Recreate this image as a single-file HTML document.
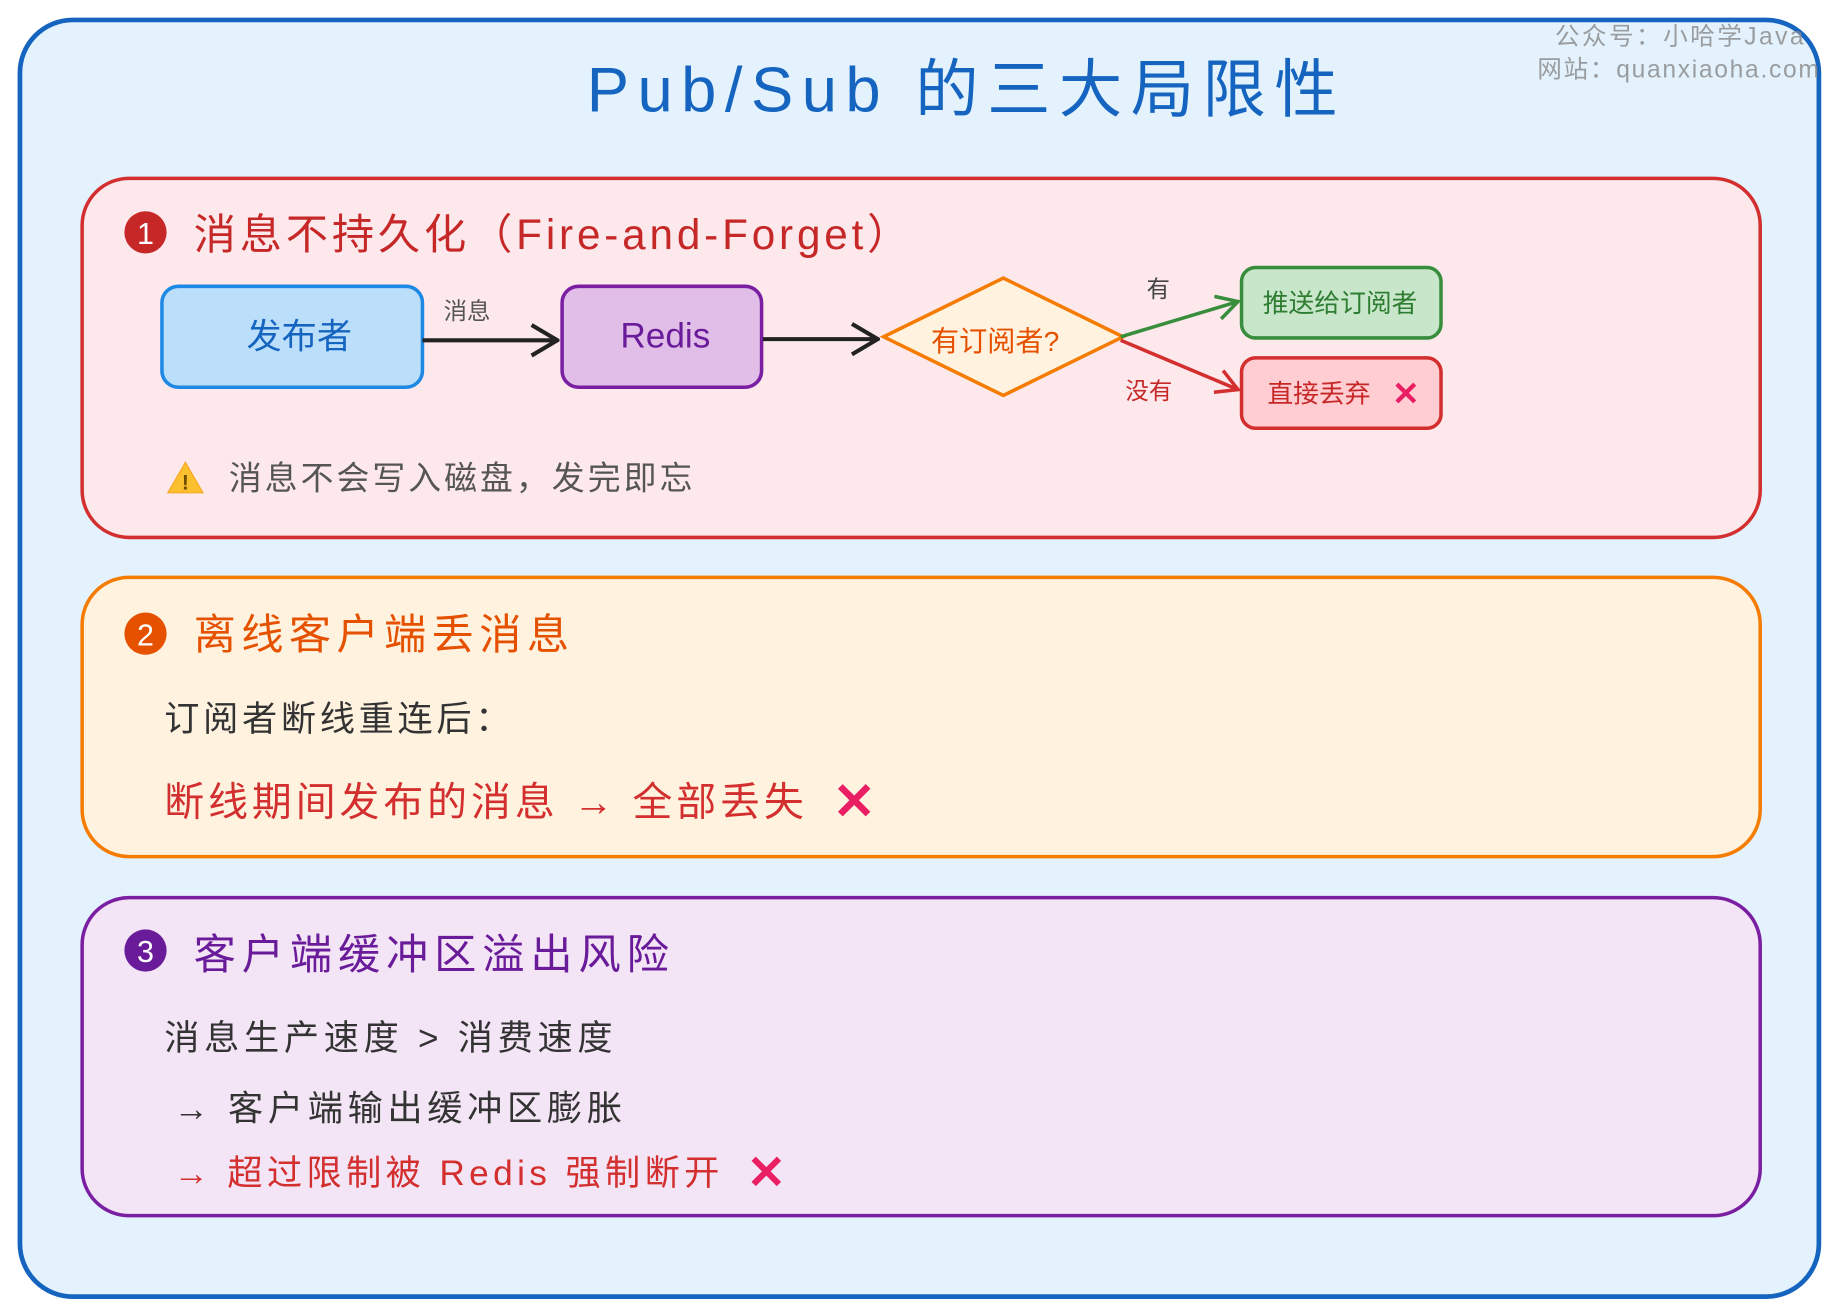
<!DOCTYPE html>
<html><head><meta charset="utf-8"><style>
html,body{margin:0;padding:0;background:#fff;}
svg{display:block;}
text{font-family:"Liberation Sans","Noto Sans CJK SC",sans-serif;}
</style></head><body>
<svg width="1840" height="1316" viewBox="0 0 1568 1121.5" preserveAspectRatio="none" xmlns="http://www.w3.org/2000/svg">
<defs>
<marker id="ak" markerWidth="26" markerHeight="30" refX="24" refY="15" orient="auto" markerUnits="userSpaceOnUse"><path d="M2,2 L24,15 L2,28" fill="none" stroke="#222" stroke-width="3.5"/></marker>
<marker id="ag" markerWidth="22" markerHeight="24" refX="20" refY="12" orient="auto" markerUnits="userSpaceOnUse"><path d="M2,2 L20,12 L2,22" fill="none" stroke="#388e3c" stroke-width="3"/></marker>
<marker id="ar" markerWidth="22" markerHeight="24" refX="20" refY="12" orient="auto" markerUnits="userSpaceOnUse"><path d="M2,2 L20,12 L2,22" fill="none" stroke="#d32f2f" stroke-width="3"/></marker>
</defs>
<rect x="17" y="17" width="1533" height="1088" rx="45" fill="#e3f2fd" stroke="#1565c0" stroke-width="4"/>
<text x="500" y="95" font-size="54" fill="#1565c0" textLength="640" lengthAdjust="spacing">Pub/Sub 的三大局限性</text>
<text x="1325" y="38" font-size="21" fill="#888" opacity="0.8" textLength="212" lengthAdjust="spacing">公众号：小哈学Java</text>
<text x="1310" y="66" font-size="21" fill="#888" opacity="0.8" textLength="240" lengthAdjust="spacing">网站：quanxiaoha.com</text>

<rect x="70" y="152" width="1430" height="306" rx="40" fill="#fde8ec" stroke="#d32f2f" stroke-width="3"/>
<circle cx="124" cy="198" r="18" fill="#c62828"/>
<text x="124" y="208" font-size="26" fill="#fff" text-anchor="middle">1</text>
<text x="165" y="212" font-size="36" fill="#c62828" textLength="610" lengthAdjust="spacing">消息不持久化（Fire-and-Forget）</text>
<rect x="138" y="244" width="222" height="86" rx="14" fill="#bbdefb" stroke="#1e88e5" stroke-width="3"/>
<text x="255" y="297" font-size="30" fill="#1565c0" text-anchor="middle">发布者</text>
<line x1="360" y1="290" x2="475" y2="290" stroke="#222" stroke-width="3.5" marker-end="url(#ak)"/>
<text x="398" y="272" font-size="20" fill="#555" text-anchor="middle">消息</text>
<rect x="479" y="244" width="170" height="86" rx="14" fill="#e1bee7" stroke="#7b1fa2" stroke-width="3"/>
<text x="567" y="296" font-size="30" fill="#6a1b9a" text-anchor="middle">Redis</text>
<line x1="650" y1="289" x2="748" y2="289" stroke="#222" stroke-width="3.5" marker-end="url(#ak)"/>
<polygon points="855,237 957,287 855,337 753,287" fill="#fff3e0" stroke="#f57c00" stroke-width="3"/>
<text x="848" y="299" font-size="24" fill="#e65100" text-anchor="middle">有订阅者?</text>
<line x1="955" y1="287" x2="1055" y2="257" stroke="#388e3c" stroke-width="3" marker-end="url(#ag)"/>
<text x="987" y="253" font-size="20" fill="#444" text-anchor="middle">有</text>
<line x1="955" y1="290" x2="1055" y2="332" stroke="#d32f2f" stroke-width="3" marker-end="url(#ar)"/>
<text x="979" y="340" font-size="20" fill="#c62828" text-anchor="middle">没有</text>
<rect x="1058" y="228" width="170" height="60" rx="12" fill="#c8e6c9" stroke="#388e3c" stroke-width="3"/>
<text x="1142" y="266" font-size="22" fill="#2e7d32" text-anchor="middle">推送给订阅者</text>
<rect x="1058" y="305" width="170" height="60" rx="12" fill="#ffcdd2" stroke="#d32f2f" stroke-width="3"/>
<text x="1124" y="343" font-size="22" fill="#c62828" text-anchor="middle">直接丢弃</text>
<text x="1198" y="345" font-size="28" fill="#e91e63" text-anchor="middle" font-weight="bold">✕</text>
<polygon points="158,394 173,420 143,420" fill="#fbc02d" stroke="#f9a825" stroke-width="1"/>
<text x="158" y="417" font-size="18" fill="#6d4c00" text-anchor="middle" font-weight="bold">!</text>
<text x="195" y="417" font-size="28" fill="#555" textLength="395" lengthAdjust="spacing">消息不会写入磁盘，发完即忘</text>

<rect x="70" y="492" width="1430" height="238" rx="40" fill="#fff3e0" stroke="#f57c00" stroke-width="3"/>
<circle cx="124" cy="540" r="18" fill="#e65100"/>
<text x="124" y="550" font-size="26" fill="#fff" text-anchor="middle">2</text>
<text x="165" y="553" font-size="36" fill="#e65100" textLength="320" lengthAdjust="spacing">离线客户端丢消息</text>
<text x="140" y="623" font-size="30" fill="#333" textLength="295" lengthAdjust="spacing">订阅者断线重连后：</text>
<text x="140" y="695" font-size="34" fill="#d32f2f" textLength="545" lengthAdjust="spacing">断线期间发布的消息 → 全部丢失</text>
<text x="728" y="698" font-size="44" fill="#e91e63" text-anchor="middle" font-weight="bold">✕</text>

<rect x="70" y="765" width="1430" height="271" rx="40" fill="#f3e5f5" stroke="#7b1fa2" stroke-width="3"/>
<circle cx="124" cy="810" r="18" fill="#6a1b9a"/>
<text x="124" y="820" font-size="26" fill="#fff" text-anchor="middle">3</text>
<text x="165" y="826" font-size="36" fill="#6a1b9a" textLength="405" lengthAdjust="spacing">客户端缓冲区溢出风险</text>
<text x="140" y="895" font-size="30" fill="#333" textLength="382" lengthAdjust="spacing">消息生产速度 &gt; 消费速度</text>
<text x="148" y="955" font-size="30" fill="#333" textLength="382" lengthAdjust="spacing">→ 客户端输出缓冲区膨胀</text>
<text x="148" y="1010" font-size="30" fill="#d32f2f" textLength="465" lengthAdjust="spacing">→ 超过限制被 Redis 强制断开</text>
<text x="653" y="1013" font-size="40" fill="#e91e63" text-anchor="middle" font-weight="bold">✕</text>
</svg>
</body></html>
